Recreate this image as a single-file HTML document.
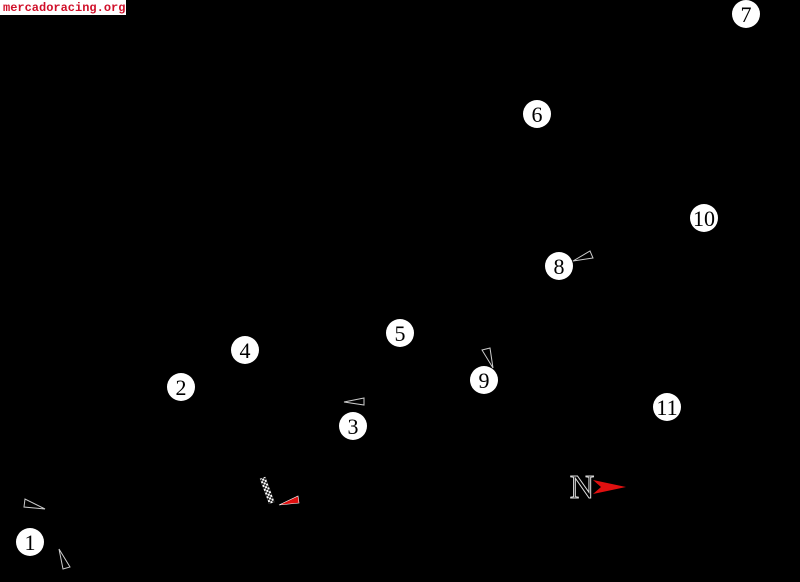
<!DOCTYPE html>
<html><head><style>html,body{margin:0;padding:0;background:#000;width:800px;height:582px;overflow:hidden}</style></head>
<body>
<svg width="800" height="582" viewBox="0 0 800 582" xmlns="http://www.w3.org/2000/svg">
<defs><pattern id="chk" width="4" height="4" patternUnits="userSpaceOnUse"><rect width="4" height="4" fill="#222"/><rect width="2" height="2" fill="#fff"/><rect x="2" y="2" width="2" height="2" fill="#fff"/></pattern></defs>
<rect width="800" height="582" fill="#000"/>
<rect x="0" y="0" width="126" height="15" fill="#fff"/>
<text x="3" y="11" font-family="Liberation Mono, monospace" font-size="12" font-weight="bold" fill="#d0102a">mercadoracing.org</text>
<g fill="#fff" font-family="Liberation Serif, serif" font-size="22" text-anchor="middle">
<circle cx="30" cy="542" r="14"/><circle cx="181" cy="387" r="14"/><circle cx="353" cy="426" r="14"/><circle cx="245" cy="350" r="14"/><circle cx="400" cy="333" r="14"/><circle cx="537" cy="114" r="14"/><circle cx="746" cy="14" r="14"/><circle cx="559" cy="266" r="14"/><circle cx="484" cy="380" r="14"/><circle cx="704" cy="218" r="14"/><circle cx="667" cy="407" r="14"/>
</g>
<g fill="#000" font-family="Liberation Serif, serif" font-size="22" text-anchor="middle">
<text x="30" y="550">1</text><text x="181" y="395">2</text><text x="353" y="434">3</text><text x="245" y="358">4</text><text x="400" y="341">5</text><text x="537" y="122">6</text><text x="746" y="22">7</text><text x="559" y="274">8</text><text x="484" y="388">9</text><text x="704" y="226">10</text><text x="667" y="415">11</text>
</g>
<g fill="none" stroke="#ccc" stroke-width="1">
<polygon points="25,499 24,507 45,509"/>
<polygon points="59,549 63,569 70,567"/>
<polygon points="344,402 364,398 364,405"/>
<polygon points="573,261 590,251 593,258"/>
<polygon points="482,350 490,348 493,368"/>
</g>
<polygon points="279,505 298,496 299,503" fill="#e01010" stroke="#fff" stroke-width="0.6"/>
<rect x="264" y="477" width="6" height="27" fill="url(#chk)" transform="rotate(-20 267 490)"/>
<text x="582" y="498" text-anchor="middle" font-family="Liberation Serif, serif" font-size="34" fill="#000" stroke="#ddd" stroke-width="1">N</text>
<polygon points="593,480 626,487 593,494 601,487" fill="#e01010"/>
</svg>
</body></html>
